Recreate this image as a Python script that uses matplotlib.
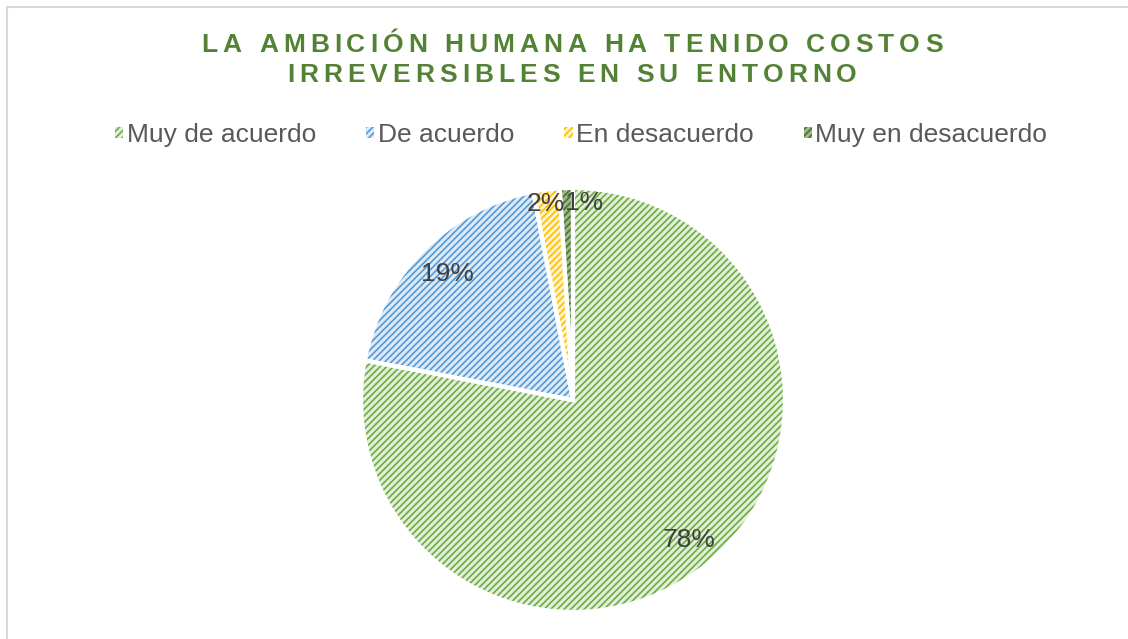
import numpy as np
import matplotlib
matplotlib.use('Agg')
import matplotlib.pyplot as plt
from matplotlib.patches import Patch, Rectangle
from matplotlib.font_manager import FontProperties

categories = ['Muy de acuerdo', 'De acuerdo', 'En desacuerdo', 'Muy en desacuerdo']
values = [78, 19, 2, 1]
pct_labels = ['78%', '19%', '2%', '1%']
title_lines = ['LA AMBICIÓN HUMANA HA TENIDO COSTOS', 'IRREVERSIBLES EN SU ENTORNO']

# fill tint / hatch line colour per slice
fills = ['#E2EFD9', '#DDEBF7', '#FFF2CC', '#9DB98A']
lines = ['#70AD47', '#5B9BD5', '#FFC000', '#4A7330']

plt.rcParams['font.family'] = ['Liberation Sans', 'DejaVu Sans']
plt.rcParams['hatch.linewidth'] = 1.25

W, H = 1128, 639
fig = plt.figure(figsize=(W / 100, H / 100), dpi=100)

# chart area frame (right/bottom edges fall outside the image)
fig.patches.append(Rectangle((7 / W, -0.1), 1.2, 1.1 - 7 / H, transform=fig.transFigure,
                             fill=False, edgecolor='#D9D9D9', linewidth=1.5))

cx, cy, r = 573, 400, 212
ax = fig.add_axes([(cx - r) / W, (H - cy - r) / H, 2 * r / W, 2 * r / H])

# base tint, then hatch, then white separators
ax.pie(values, colors=fills, startangle=90, counterclock=False,
       wedgeprops=dict(linewidth=0))
hatched, _ = ax.pie(values, colors=['none'] * 4, startangle=90, counterclock=False,
                    wedgeprops=dict(linewidth=0))
for w, c in zip(hatched, lines):
    w.set_edgecolor(c)
    w.set_hatch('/////')
    w.set_linewidth(0)
edges, _ = ax.pie(values, colors=['none'] * 4, startangle=90, counterclock=False,
                  wedgeprops=dict(linewidth=3, edgecolor='white'))
ax.set_xlim(-1, 1)
ax.set_ylim(-1, 1)
ax.set_aspect('equal')
ax.axis('off')

label_dist = [0.86, 0.84, 0.93, 0.93]
x_shift = [0, 0, -0.01, 0.08]
for w, lab, d, dx in zip(edges, pct_labels, label_dist, x_shift):
    mid = np.deg2rad((w.theta1 + w.theta2) / 2)
    ax.text(d * np.cos(mid) + dx, d * np.sin(mid), lab, ha='center', va='center',
            fontsize=19, color='#404040')

# legend with small hatched squares
handles = [Patch(facecolor=f, edgecolor=c, hatch='/////', linewidth=0) for f, c in zip(fills, lines)]
fig.legend(handles, categories, loc='center', bbox_to_anchor=(581 / W, 1 - 135 / H),
           ncol=4, frameon=False, fontsize=19, labelcolor='#595959',
           handlelength=0.32, handleheight=0.32, handletextpad=0.12, columnspacing=1.9)

# letter-spaced bold title
renderer = fig.canvas.get_renderer()
fp = FontProperties(family='Liberation Sans', weight='bold', size=19)
spacing = 5.0
title_y = [45, 75]
space_w = (renderer.get_text_width_height_descent('a b', fp, ismath=False)[0]
           - renderer.get_text_width_height_descent('ab', fp, ismath=False)[0])
for line, ty in zip(title_lines, title_y):
    widths = [space_w if ch == ' ' else renderer.get_text_width_height_descent(ch, fp, ismath=False)[0]
              for ch in line]
    total = sum(widths) + spacing * (len(line) - 1)
    x = 572 - total / 2
    for ch, wd in zip(line, widths):
        fig.text(x / W, 1 - ty / H, ch, fontproperties=fp, color='#548235',
                 ha='left', va='center')
        x += wd + spacing

fig.savefig('out.png', dpi=100)
